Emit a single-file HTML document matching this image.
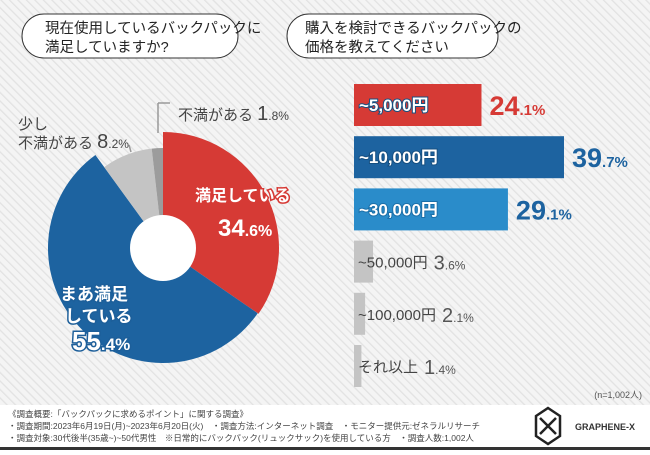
<!DOCTYPE html>
<html><head><meta charset="utf-8"><style>
body{margin:0;width:650px;height:450px;overflow:hidden;font-family:"Liberation Sans","Noto Sans CJK JP",sans-serif;}
svg text{font-family:"Liberation Sans","Noto Sans CJK JP",sans-serif;}
</style></head><body>
<svg id="c" width="650" height="450" viewBox="0 0 650 450" xmlns="http://www.w3.org/2000/svg">
<defs><pattern id="st" width="6" height="6" patternUnits="userSpaceOnUse" patternTransform="rotate(-45)"><rect width="6" height="6" fill="#f4f4f4"/><rect width="1.3" height="6" fill="#e2e2e2"/></pattern></defs>
<rect width="650" height="405" fill="url(#st)"/>
<rect y="405" width="650" height="42" fill="#fff"/>
<rect y="447" width="650" height="3" fill="#333"/>
<g>
<rect x="22" y="14" width="216" height="44" rx="22" fill="#fff" stroke="#333" stroke-width="1"/>
<text x="45" y="33" font-size="14.5" fill="#222">現在使用しているバックパックに</text>
<text x="45" y="52" font-size="14.5" fill="#222">満足していますか?</text>
</g>
<g>
<rect x="287" y="14" width="211" height="44" rx="22" fill="#fff" stroke="#333" stroke-width="1"/>
<text x="305" y="33" font-size="14.5" fill="#222">購入を検討できるバックパックの</text>
<text x="305" y="52" font-size="14.5" fill="#222">価格を教えてください</text>
</g>
<g id="pie"></g>
<g id="bars"></g>
<g font-weight="bold">
<text x="18" y="129" font-size="15" fill="#444" font-weight="normal">少し</text>
<text x="18" y="136" font-size="15" fill="#444" font-weight="normal" dy="12">不満がある <tspan font-size="20">8</tspan><tspan font-size="12">.2%</tspan></text>
<line x1="158" y1="103" x2="158" y2="133" stroke="#999" stroke-width="1.5"/><line x1="158" y1="103" x2="170" y2="103" stroke="#999" stroke-width="1.5"/>
<line x1="129" y1="145" x2="131" y2="152" stroke="#999" stroke-width="1.5"/>
<text x="178" y="120" font-size="15" fill="#444" font-weight="normal">不満がある <tspan font-size="20">1</tspan><tspan font-size="12">.8%</tspan></text>
<text x="195" y="201" font-size="16" fill="#fff" stroke="#d63a35" stroke-width="3" paint-order="stroke">満足している</text>
<text x="218" y="236" font-size="24" fill="#fff" stroke="#d63a35" stroke-width="3" paint-order="stroke">34<tspan font-size="16">.6%</tspan></text>
<text x="60" y="300" font-size="17" fill="#fff" stroke="#1d5f9a" stroke-width="3" paint-order="stroke">まあ満足</text>
<text x="65" y="322" font-size="17" fill="#fff" stroke="#1d5f9a" stroke-width="3" paint-order="stroke">している</text>
<text x="72" y="350" font-size="26" fill="#fff" stroke="#1d5f9a" stroke-width="3" paint-order="stroke">55<tspan font-size="17">.4%</tspan></text>
</g>
<text x="642" y="398" font-size="9" fill="#555" text-anchor="end">(n=1,002人)</text>
<g font-size="8.5" fill="#444">
<text x="8" y="417">《調査概要:「バックパックに求めるポイント」に関する調査》</text>
<text x="8" y="429">・調査期間:2023年6月19日(月)~2023年6月20日(火)　・調査方法:インターネット調査　・モニター提供元:ゼネラルリサーチ</text>
<text x="8" y="441">・調査対象:30代後半(35歳~)~50代男性　※日常的にバックパック(リュックサック)を使用している方　・調査人数:1,002人</text>
</g>
<g>
<polygon points="548,408 560,416 560,436 548,444 536,436 536,416" fill="none" stroke="#222" stroke-width="2.5"/>
<path d="M540,418 L556,434 M556,418 L540,434" stroke="#222" stroke-width="2.5" fill="none"/>
<text x="575" y="430" font-size="9" font-weight="bold" fill="#333">GRAPHENE-X</text>
</g>
</svg>
<script>
const pieLabels=["満足している","まあ満足している","少し不満がある","不満がある"];
const pieValues=[34.6,55.4,8.2,1.8];
const pieColors=["#d63a35","#1d63a0","#c4c4c4","#9c9c9c"];
const pieRadii=[116,115,100,100];
const barCats=["~5,000円","~10,000円","~30,000円","~50,000円","~100,000円","それ以上"];
const barValues=[24.1,39.7,29.1,3.6,2.1,1.4];
const barColors=["#d63a35","#1d63a0","#2a8cca","#c4c4c4","#c4c4c4","#c4c4c4"];
const NS="http://www.w3.org/2000/svg";
const pie=document.getElementById('pie');
const cx=163,cy=248;
const tot=pieValues.reduce((a,b)=>a+b,0);
let acc=0;
function pt(a,r){return [cx+r*Math.sin(a),cy-r*Math.cos(a)];}
pieValues.forEach((v,i)=>{
 const a0=acc/tot*2*Math.PI;acc+=v;const a1=acc/tot*2*Math.PI;
 const r=pieRadii[i];const p0=pt(a0,r),p1=pt(a1,r);
 const lg=(a1-a0)>Math.PI?1:0;
 const p=document.createElementNS(NS,'path');
 p.setAttribute('d',`M${cx},${cy} L${p0[0]},${p0[1]} A${r},${r} 0 ${lg} 1 ${p1[0]},${p1[1]} Z`);
 p.setAttribute('fill',pieColors[i]);
 
 
 pie.appendChild(p);
});
const hole=document.createElementNS(NS,'circle');
hole.setAttribute('cx',cx);hole.setAttribute('cy',cy);hole.setAttribute('r',33);hole.setAttribute('fill','#fff');


pie.appendChild(hole);
const bars=document.getElementById('bars');
const x0=354,scale=210/39.7,y0=84,step=52.2,bh=42;
function xs(v){return v*scale;}
barValues.forEach((v,i)=>{
 const y=y0+i*step;const w=xs(v);
 const r=document.createElementNS(NS,'rect');
 r.setAttribute('x',x0);r.setAttribute('y',y);r.setAttribute('width',w);r.setAttribute('height',bh);r.setAttribute('fill',barColors[i]);
 
 
 bars.appendChild(r);
 const big=i<3;
 const t=document.createElementNS(NS,'text');
 t.setAttribute('x',x0+(big?5:4));t.setAttribute('y',y+bh/2+6);
 t.setAttribute('font-size',big?'17':'15');
 if(big){t.setAttribute('fill','#fff');t.setAttribute('font-weight','bold');t.setAttribute('stroke',barColors[i]==='#2a8cca'?'#1b6fa8':'#164f80');t.setAttribute('stroke-width','2');t.setAttribute('paint-order','stroke');}
 else t.setAttribute('fill','#444');
 t.textContent=barCats[i];
 
 
 bars.appendChild(t);
 const s=String(v).split('.');
 const vt=document.createElementNS(NS,'text');
 let vx=big?x0+w+8:x0+4+t.getComputedTextLength()+6;
 vt.setAttribute('x',vx);vt.setAttribute('y',y+bh/2+(big?10:8));
 vt.setAttribute('fill',i===0?'#d63a35':(big?'#1d63a0':'#555'));
 vt.setAttribute('font-weight',big?'bold':'normal');
 vt.setAttribute('font-size',big?'27':'20');
 vt.innerHTML=s[0]+'<tspan font-size="'+(big?15:12)+'">.'+s[1]+'%</tspan>';
 
 
 bars.appendChild(vt);
});
</script>
</body></html>
